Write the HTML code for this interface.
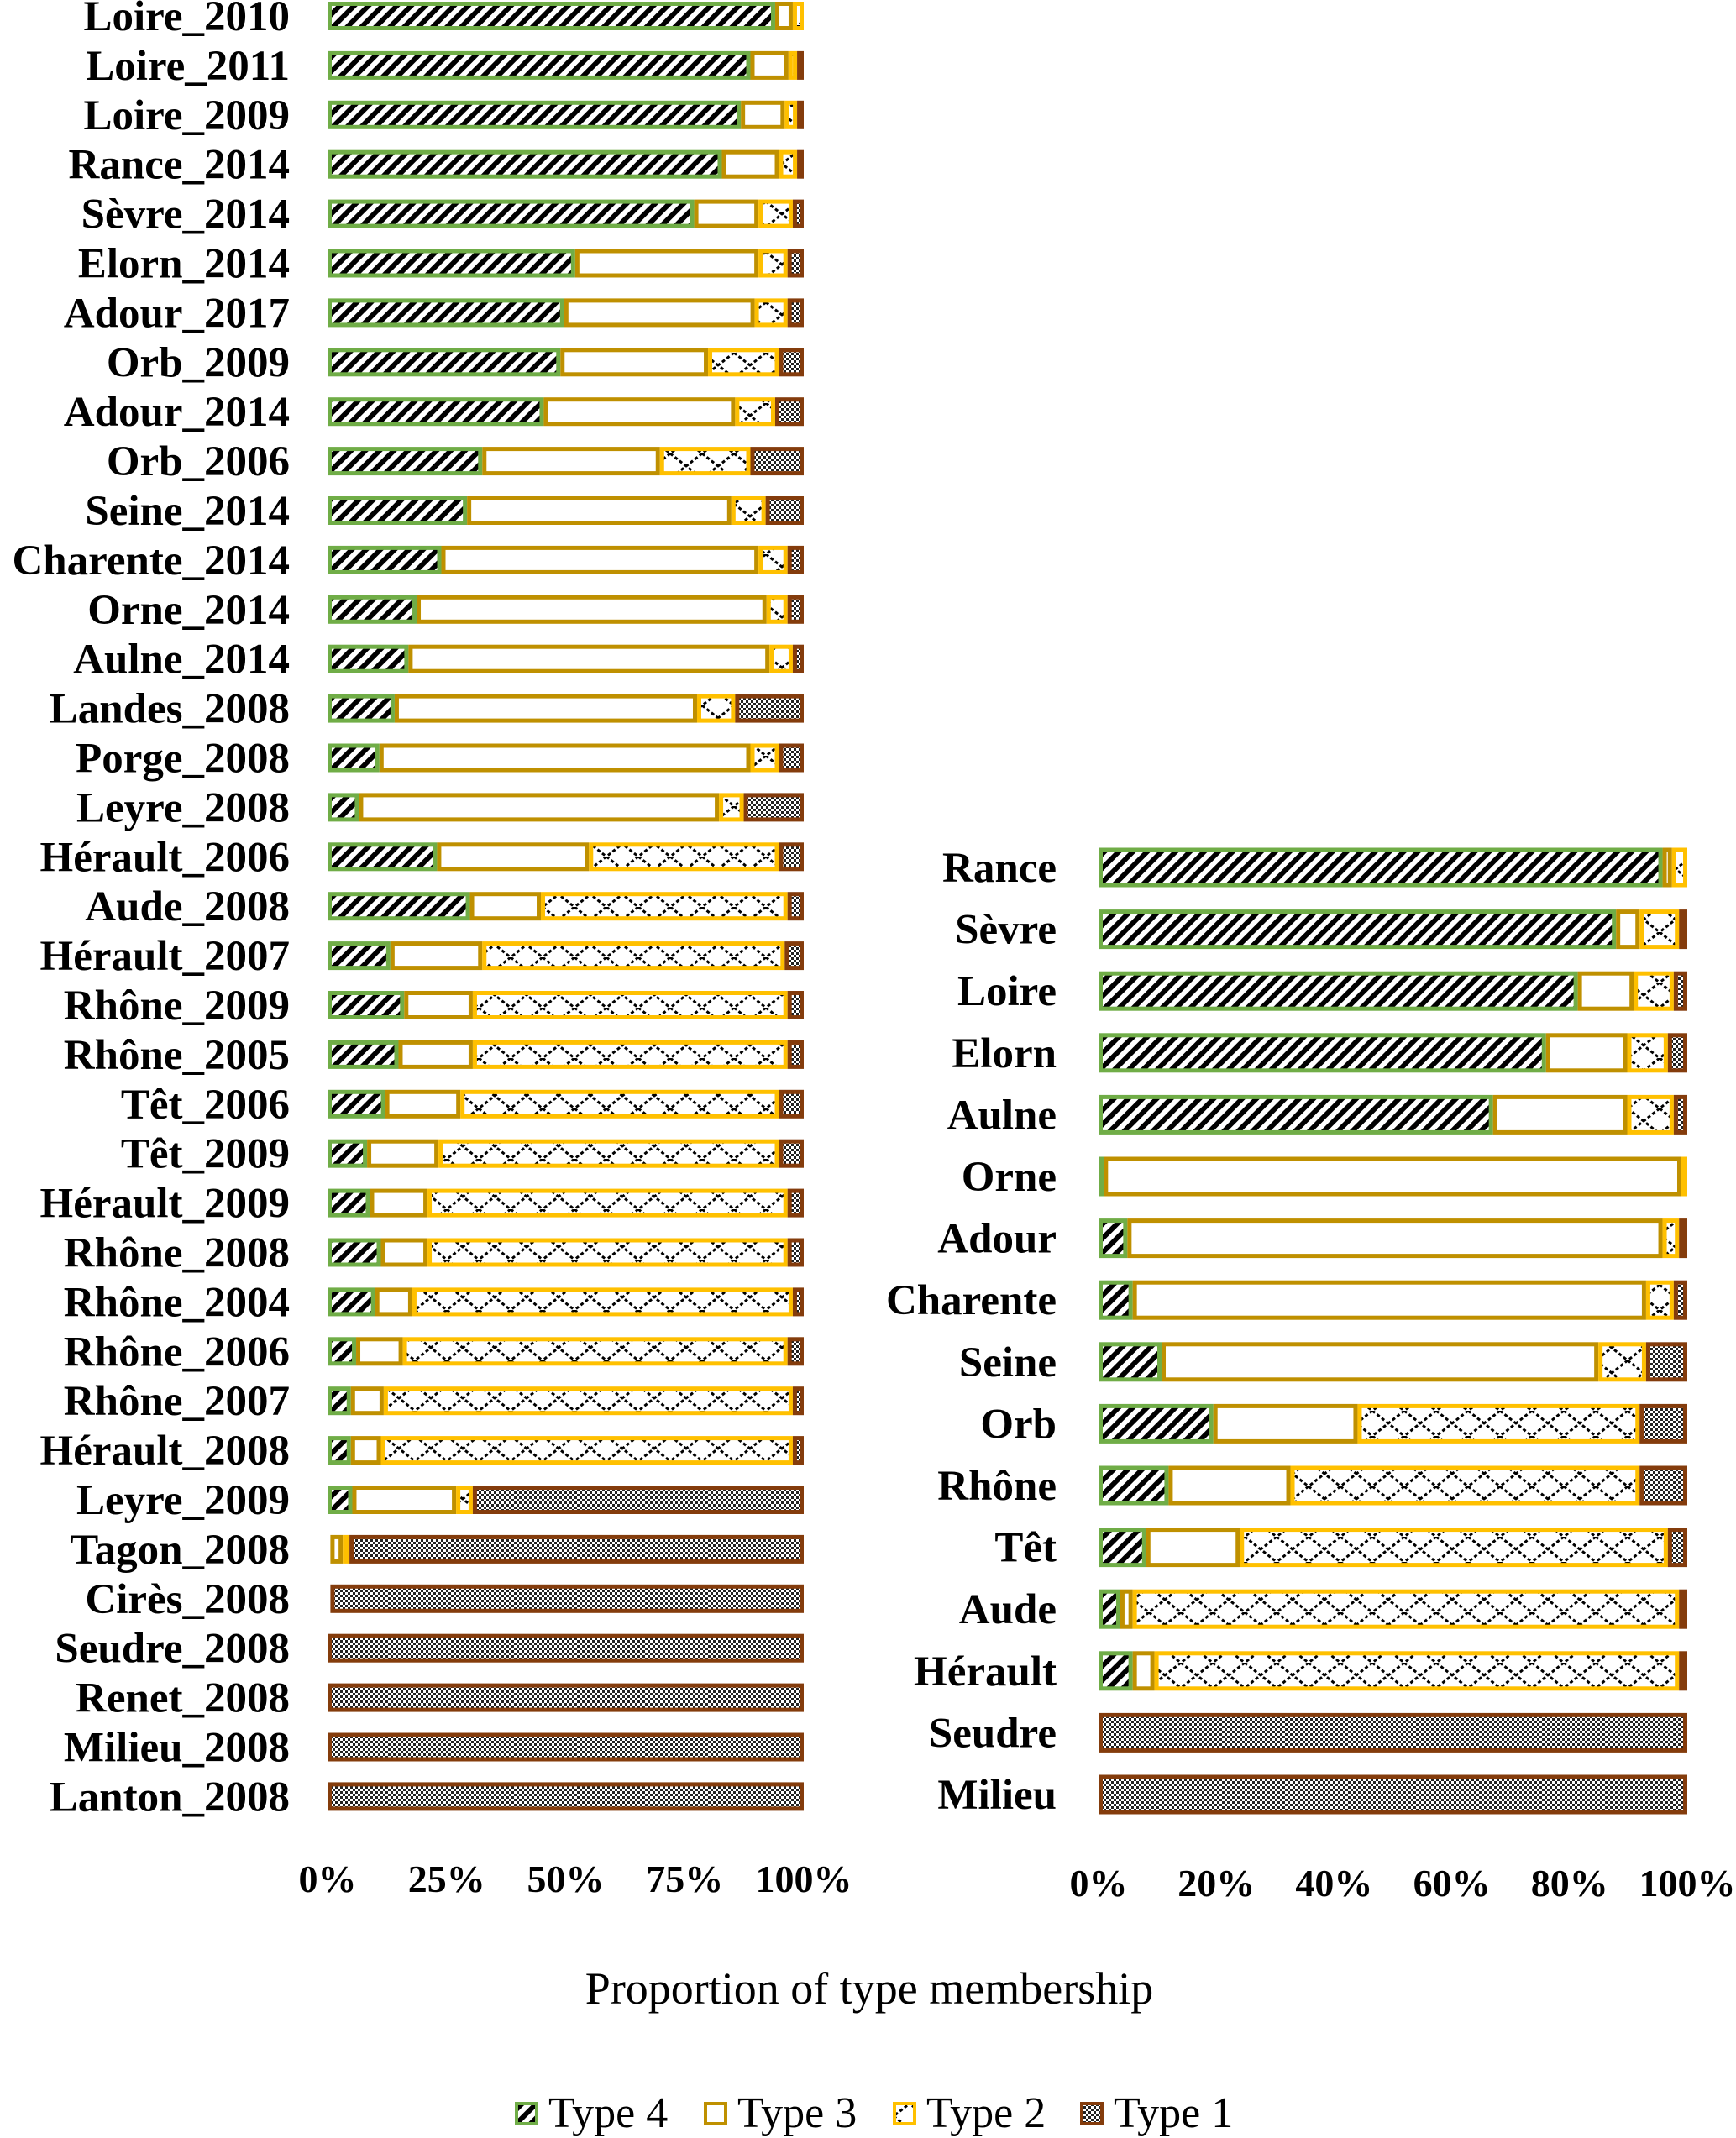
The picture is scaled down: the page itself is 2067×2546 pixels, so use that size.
<!DOCTYPE html>
<html><head><meta charset="utf-8"><style>
html,body{margin:0;padding:0;background:#fff;width:2067px;height:2546px;overflow:hidden}
svg text{font-family:"Liberation Serif",serif}
</style></head><body>
<svg id="chart" width="2067" height="2546" xmlns="http://www.w3.org/2000/svg">
<defs>
<pattern id="p4" patternUnits="userSpaceOnUse" width="12" height="12" patternTransform="rotate(45)">
<rect width="12" height="12" fill="#fff"/><rect width="6" height="12" fill="#000"/></pattern>
<pattern id="p2" patternUnits="userSpaceOnUse" width="38" height="30">
<rect width="38" height="30" fill="#fff"/><path d="M0,0 L38,30 M38,0 L0,30" stroke="#000" stroke-width="3" stroke-dasharray="4,3" fill="none"/></pattern>
<pattern id="p1" patternUnits="userSpaceOnUse" width="6" height="6">
<rect width="6" height="6" fill="#fff"/><rect width="3" height="3" fill="#222"/><rect x="3" y="3" width="3" height="3" fill="#222"/></pattern>
</defs>
<g id="left"></g>
<g id="right"></g>
<text x="1035" y="2386" font-size="54" text-anchor="middle">Proportion of type membership</text>
<g id="legend"></g>
</svg>
<script>
const leftCats=["Loire_2010","Loire_2011","Loire_2009","Rance_2014","Sèvre_2014","Elorn_2014","Adour_2017","Orb_2009","Adour_2014","Orb_2006","Seine_2014","Charente_2014","Orne_2014","Aulne_2014","Landes_2008","Porge_2008","Leyre_2008","Hérault_2006","Aude_2008","Hérault_2007","Rhône_2009","Rhône_2005","Têt_2006","Têt_2009","Hérault_2009","Rhône_2008","Rhône_2004","Rhône_2006","Rhône_2007","Hérault_2008","Leyre_2009","Tagon_2008","Cirès_2008","Seudre_2008","Renet_2008","Milieu_2008","Lanton_2008"];
const leftT4=[94,88.8,86.8,82.8,77,52,49.7,48.9,45.4,32.5,29.3,23.9,18.7,17,14.1,10.9,6.6,23,29.9,13.2,16.1,14.9,12.1,8.3,8.9,11.2,10,6,4.9,4.9,5.2,0.6,0,0,0,0,0];
const leftT3=[3.7,8,9.2,12,13.5,38.5,40,31,40.2,37.3,55.5,66.6,73.5,75.8,63.5,77.9,75.6,31.9,14.9,19.3,14.4,15.6,15.8,15,12.1,9.8,7.8,9.8,6.9,6.3,21.8,2.6,0.6,0,0,0,0];
const leftT2=[2.3,1.8,2.6,3.8,7.2,6.1,6.9,14.9,8.4,19,7.2,6.1,4.4,4.9,8,6,5.2,39.9,51.8,63.5,66.1,66.1,66.9,71.5,75.6,75.6,79.9,80.8,85.9,86.5,3.5,1.4,0,0,0,0,0];
const leftT1=[0,1.4,1.4,1.4,2.3,3.4,3.4,5.2,6,11.2,8,3.4,3.4,2.3,14.4,5.2,12.6,5.2,3.4,4,3.4,3.4,5.2,5.2,3.4,3.4,2.3,3.4,2.3,2.3,69.5,95.4,99.4,100,100,100,100];
const leftTicks=["0%","25%","50%","75%","100%"];
const rightCats=["Rance","Sèvre","Loire","Elorn","Aulne","Orne","Adour","Charente","Seine","Orb","Rhône","Têt","Aude","Hérault","Seudre","Milieu"];
const rightT4=[95.8,87.9,81.4,76,67,0.9,4.9,5.8,10.7,19.5,11.9,8.1,3.7,5.8,0,0];
const rightT3=[1.6,4,9.5,13.8,22.8,98.1,90.9,87.2,74.2,24.5,20.7,15.9,2.1,3.7,0,0];
const rightT2=[2.6,6.7,6.8,6.9,7.9,1,2.8,4.7,8.1,47.9,59.3,72.7,92.8,89.1,0,0];
const rightT1=[0,1.4,2.3,3.3,2.3,0,1.4,2.3,7,8.1,8.1,3.3,1.4,1.4,100,100];
const rightTicks=["0%","20%","40%","60%","80%","100%"];
const typeNames=["Type 4","Type 3","Type 2","Type 1"];
const fills=["url(#p4)","#fff","url(#p2)","url(#p1)"];
const strokes=["#70AD47","#BF9000","#FFC000","#843C0C"];
const NS="http://www.w3.org/2000/svg";
function mk(t,a,p){const e=document.createElementNS(NS,t);for(const k in a)e.setAttribute(k,a[k]);p.appendChild(e);return e;}
function panel(g,cats,series,ticks,x0,x1,y0,step,bh,tickY,lblX,prefix){
  const xs=v=>x0+(x1-x0)*v/100;
  cats.forEach((c,i)=>{
    const cy=y0+i*step;
    const t=mk('text',{x:lblX,y:cy+17,'font-size':51,'font-weight':'bold','text-anchor':'end'},g);
    t.textContent=c;
    
    
    let acc=0;
    series.forEach((s,k)=>{
      const v=s[i];
      if(v>0){
        const r=mk('rect',{x:xs(acc)+2.5,y:cy-bh/2,width:Math.max(0,xs(acc+v)-xs(acc)-5),height:bh,fill:fills[k],stroke:strokes[k],'stroke-width':5},g);
        
        
      }
      acc+=v;
    });
  });
  ticks.forEach((tk,j)=>{
    const t=mk('text',{x:xs(j*100/(ticks.length-1)),y:tickY,'font-size':46,'font-weight':'bold','text-anchor':'middle'},g);
    t.textContent=tk;
    
    
  });
}
panel(document.getElementById('left'),leftCats,[leftT4,leftT3,leftT2,leftT1],leftTicks,390,957,19,58.9,29,2253,345,'left');
panel(document.getElementById('right'),rightCats,[rightT4,rightT3,rightT2,rightT1],rightTicks,1308,2009,1033,73.6,42,2258,1258,'right');
const lg=document.getElementById('legend');
const lx=[615,840,1065,1288];
typeNames.forEach((n,k)=>{
  const r=mk('rect',{x:lx[k],y:2505,width:24,height:24,fill:fills[k],stroke:strokes[k],'stroke-width':4},lg);
  
  
  const t=mk('text',{x:lx[k]+38,y:2533,'font-size':52},lg);
  t.textContent=n;
  
  
});
</script>
</body></html>
